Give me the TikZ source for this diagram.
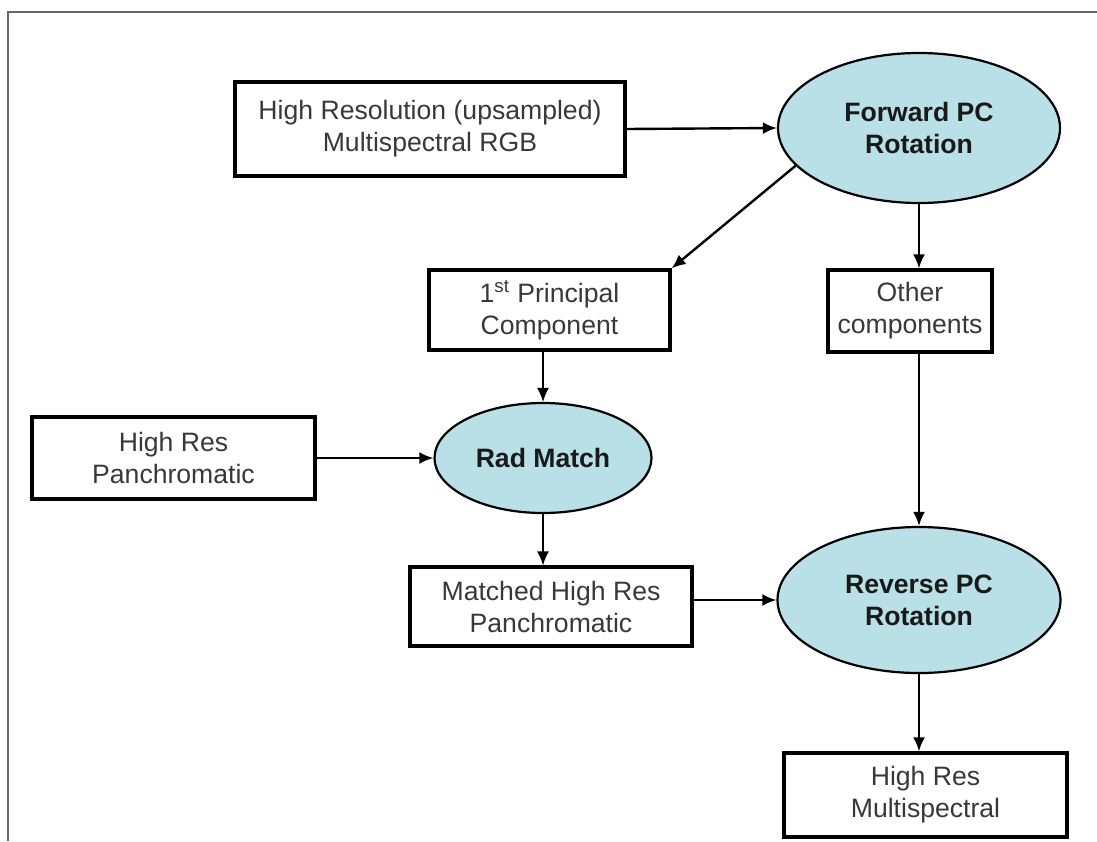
\documentclass[tikz,border=0pt]{standalone}
\usepackage{fontspec}
\setmainfont{Liberation Sans}
\usetikzlibrary{shapes.geometric,arrows.meta}
\definecolor{pcblue}{RGB}{185,224,230}
\begin{document}
\begin{tikzpicture}[x=0.5pt,y=-0.5pt,
    box/.style={draw,line width=1.6pt,inner sep=0pt,align=center,text=black!78,
      font=\fontsize{13.3}{16}\selectfont},
    op/.style={ellipse,draw,line width=1.1pt,fill=pcblue,inner sep=0pt,align=center,
      text=black!90,font=\fontsize{13.3}{16}\selectfont\bfseries},
    arr/.style={-{Latex[length=7pt,width=6pt]},line width=1.2pt},
    thinarr/.style={-{Latex[length=7pt,width=6pt]},line width=0.8pt}]
    \useasboundingbox (0,0) rectangle (1097,841);
    \draw[black!60,line width=0.7pt] (8,841)--(8,12)--(1097,12);
    % boxes
    \node[box,minimum width=195pt,minimum height=47pt] (rgb) at (430,129)
      {High Resolution (upsampled)\\Multispectral RGB};
    \node[box,minimum width=120.5pt,minimum height=40pt] (pc1) at (549.5,310)
      {1\textsuperscript{st} Principal\\Component};
    \node[box,minimum width=82pt,minimum height=41pt] (oth) at (910,311)
      {Other\\components};
    \node[box,minimum width=141.5pt,minimum height=41pt] (pan) at (173.5,458)
      {High Res\\Panchromatic};
    \node[box,minimum width=141pt,minimum height=39.5pt] (mat) at (551,606.5)
      {Matched High Res\\Panchromatic};
    \node[box,minimum width=141.5pt,minimum height=42pt] (out) at (925.5,795)
      {High Res\\Multispectral};
    % operations
    \node[op,minimum width=141pt,minimum height=75pt] (fwd) at (919,128)
      {Forward PC\\Rotation};
    \node[op,minimum width=108.5pt,minimum height=55pt] (rad) at (543,458)
      {Rad Match};
    \node[op,minimum width=141.5pt,minimum height=73pt] (rev) at (919,600)
      {Reverse PC\\Rotation};
    % arrows
    \draw[arr] (rgb.east)--(fwd.west);
    \draw[arr] (fwd.197)--(pc1.north east);
    \draw[arr] (fwd.south)--(fwd.south |- oth.north);
    \draw[thinarr] (rad.north |- pc1.south)--(rad.north);
    \draw[arr] (pan.east)--(rad.west);
    \draw[thinarr] (rad.south)--(rad.south |- mat.north);
    \draw[arr] (oth.south -| rev.north)--(rev.north);
    \draw[arr] (mat.east |- rev.west)--(rev.west);
    \draw[arr] (rev.south)--(rev.south |- out.north);
\end{tikzpicture}
\end{document}
